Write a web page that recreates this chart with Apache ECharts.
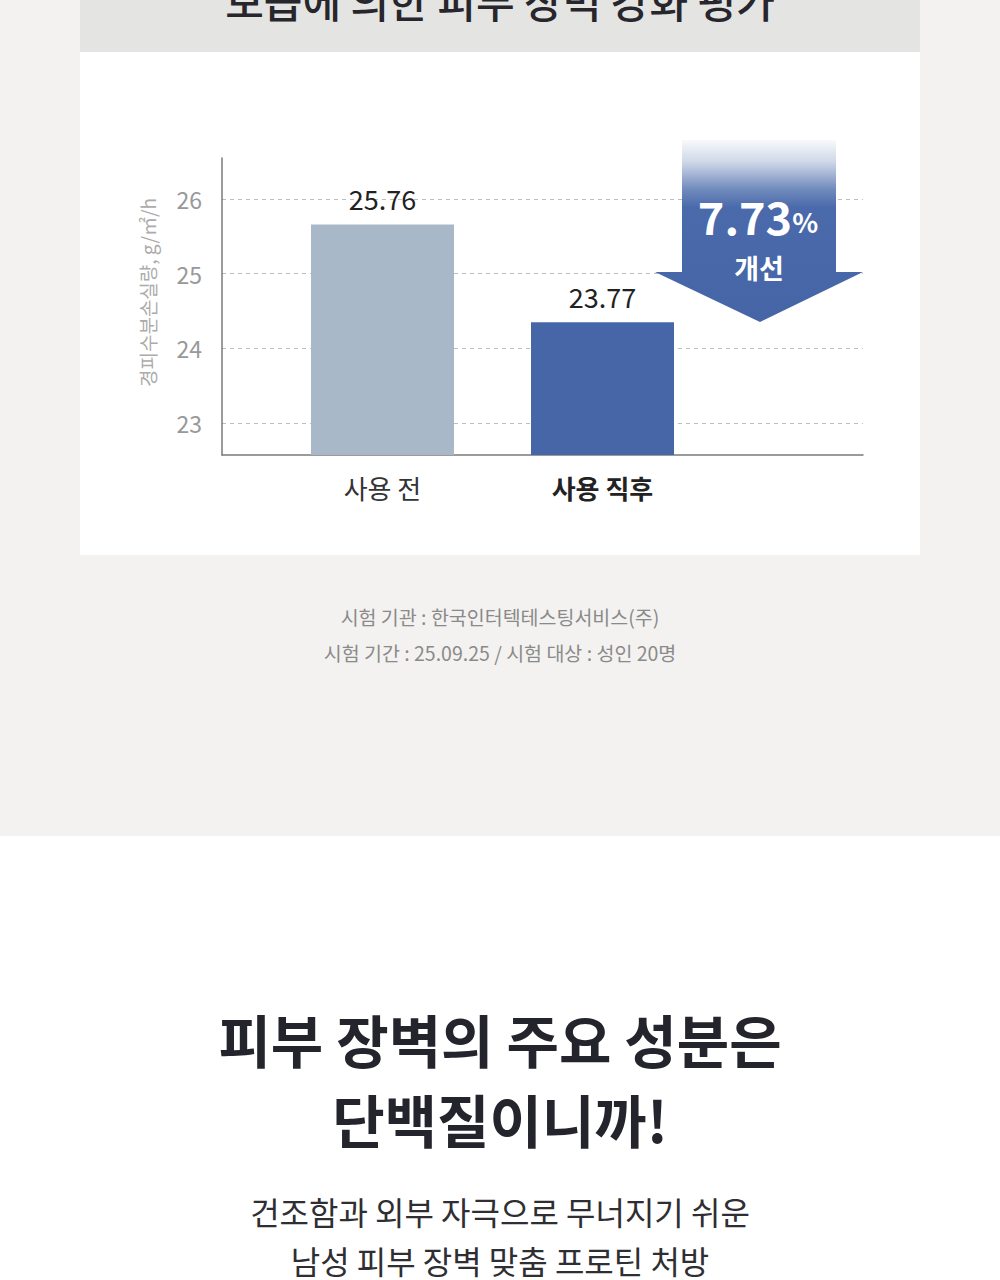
<!DOCTYPE html>
<html>
<head>
<meta charset="utf-8">
<script src="https://cdn.jsdelivr.net/npm/echarts@6/dist/echarts.min.js"></script>
<style>
html, body { margin: 0; padding: 0; }
body { width: 1000px; height: 1280px; position: relative; overflow: hidden; background: #f3f2f0; font-family: "Noto Sans CJK KR", "Noto Sans", sans-serif; }
.band { position: absolute; left: 80px; top: 0; width: 840px; height: 52px; background: #e4e4e3; overflow: hidden; }
.band .title { position: absolute; left: 0; width: 840px; top: -21px; line-height: 42px; font-size: 42px; font-weight: 500; color: #26262c; text-align: center; }
#chart_ { position: absolute; left: 80px; top: 52px; width: 840px; height: 503px; background: #ffffff; }
.note { position: absolute; left: 0; width: 1000px; text-align: center; font-size: 19.5px; color: #8a8a8a; line-height: 36px; top: 599px; }
.lower { position: absolute; left: 0; top: 836px; width: 1000px; height: 444px; background: #ffffff; }
.head { position: absolute; left: 0; width: 1000px; text-align: center; font-size: 57px; font-weight: 700; color: #24242c; line-height: 80px; top: 998px; }
.sub { position: absolute; left: 0; width: 1000px; text-align: center; font-size: 32px; color: #2e2e33; line-height: 49px; top: 1187px; }
</style>
</head>
<body>
<div class="band"><div class="title">보습에 의한 피부 장벽 강화 평가</div></div>
<div id="chart_"></div>
<div class="note">시험 기관 : 한국인터텍테스팅서비스(주)<br>시험 기간 : 25.09.25 / 시험 대상 : 성인 20명</div>
<div class="lower"></div>
<div class="head">피부 장벽의 주요 성분은<br>단백질이니까!</div>
<div class="sub">건조함과 외부 자극으로 무너지기 쉬운<br>남성 피부 장벽 맞춤 프로틴 처방</div>
<script>
// 카테고리 / 값
var categories = ['사용 전', '사용 직후'];
var barHeights = [25.66, 24.35];          // 그림에서 막대 높이 (축 기준)
var barLabels = ['25.76', '23.77'];       // 막대 위 표기 값
var yTicks = [23, 24, 25, 26];
var barColors = ['#a9b8c8', '#4666a8'];
var yName = '경피수분손실량, g/㎡/h';
var improve = '7.73';

var chart = echarts.init(document.getElementById('chart_'), null, {renderer: 'svg'});
window.onresize = function () {
    chart.resize();
};

var yMin = 22.57, yMax = 26.55;
var font = '"Noto Sans CJK KR", "Noto Sans", sans-serif';

var option = {
    backgroundColor: '#ffffff',
    animation: false,
    textStyle: { fontFamily: font },
    grid: [
        { left: 142, right: 57, top: 106, bottom: 100 },
        { left: 192.5, width: 440, top: 106, bottom: 100 }
    ],
    xAxis: [
        {
            type: 'value', gridIndex: 0, min: 0, max: 1,
            axisLine: { show: true, onZero: false, lineStyle: { color: '#7a7a7a', width: 1.5 } },
            axisTick: { show: false }, axisLabel: { show: false }, splitLine: { show: false }
        },
        {
            type: 'category', gridIndex: 1, data: categories,
            axisLine: { show: false }, axisTick: { show: false },
            axisLabel: {
                margin: 19,
                formatter: function (v, i) {
                    return i === 1 ? '{b|' + v + '}' : '{a|' + v + '}';
                },
                rich: {
                    a: { fontSize: 26, color: '#333333', fontFamily: font },
                    b: { fontSize: 26, color: '#222222', fontWeight: 'bold', fontFamily: font }
                }
            }
        }
    ],
    yAxis: [
        {
            type: 'value', gridIndex: 0, min: yMin, max: yMax,
            name: yName, nameLocation: 'middle', nameGap: 65, nameRotate: 90,
            nameTextStyle: { fontSize: 19, color: '#ababab', padding: [0, 0, 0, 28] },
            axisLine: { show: true, lineStyle: { color: '#7a7a7a', width: 1.5 } },
            axisTick: { show: false, customValues: yTicks },
            axisLabel: { customValues: yTicks, fontSize: 23, color: '#999999', margin: 20 },
            splitLine: { show: true, lineStyle: { color: '#bdbdbd', type: [4, 4], width: 1 } }
        },
        {
            type: 'value', gridIndex: 1, min: yMin, max: yMax, show: false,
            splitLine: { show: false }
        }
    ],
    series: [{
        type: 'bar',
        xAxisIndex: 1, yAxisIndex: 1,
        barWidth: 143,
        data: barHeights.map(function (v, i) {
            return { value: v, itemStyle: { color: barColors[i] } };
        }),
        label: {
            show: true, position: 'top', distance: 12,
            fontSize: 27, color: '#222222',
            formatter: function (p) { return barLabels[p.dataIndex]; }
        }
    }],
    graphic: [
        {
            type: 'polygon', z: 10,
            shape: { points: [[602, 88], [756, 88], [756, 220], [783, 220], [680, 270], [575, 220], [602, 220]] },
            style: {
                fill: new echarts.graphic.LinearGradient(0, 0, 0, 1, [
                    { offset: 0, color: '#f8f9fb' },
                    { offset: 0.12, color: '#cfd8e8' },
                    { offset: 0.27, color: '#718bbd' },
                    { offset: 0.37, color: '#4a6aab' },
                    { offset: 1, color: '#4565a6' }
                ])
            }
        },
        {
            type: 'text', z: 11, x: 678, y: 163,
            style: {
                text: '{n|' + improve + '}{p|%}',
                align: 'center', verticalAlign: 'middle',
                rich: {
                    n: { fontSize: 45, fontWeight: 'bold', fill: '#ffffff', fontFamily: font },
                    p: { fontSize: 27, fontWeight: 'bold', fill: '#ffffff', fontFamily: font, padding: [12, 0, 0, 0] }
                }
            }
        },
        {
            type: 'text', z: 11, x: 679, y: 215,
            style: {
                text: '개선', align: 'center', verticalAlign: 'middle',
                fontSize: 27, fontWeight: 'bold', fill: '#ffffff', fontFamily: font
            }
        }
    ]
};
chart.setOption(option);
</script>
</body>
</html>
